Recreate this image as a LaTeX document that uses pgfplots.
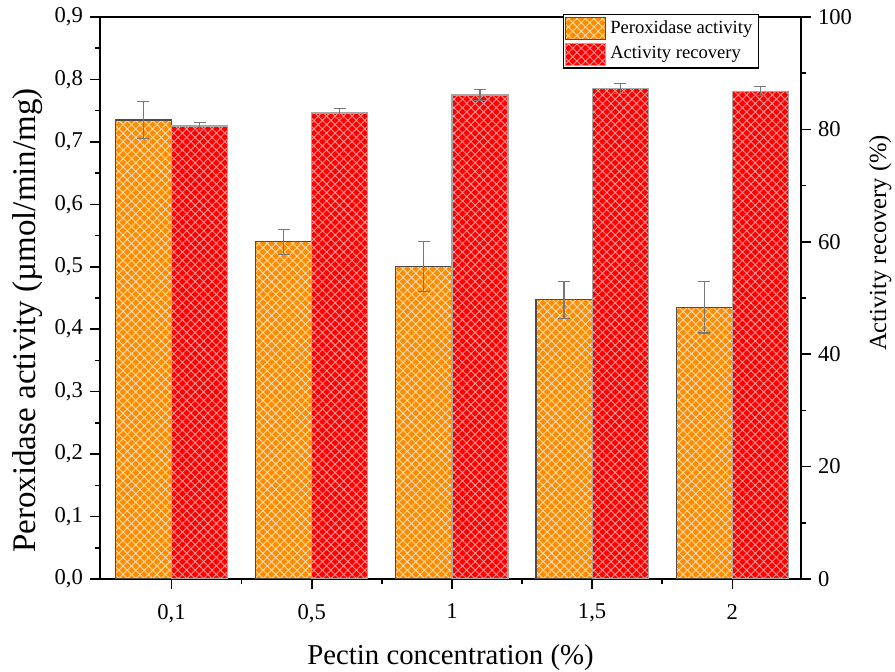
\documentclass[border=0pt]{standalone}
\usepackage{pgfplots}
\pgfplotsset{compat=1.18}
\usepackage{pgfplotstable}
\usetikzlibrary{patterns.meta}
\usepackage{fontspec}
\setmainfont{Liberation Serif}
\definecolor{barorange}{RGB}{255,140,0}
\definecolor{barred}{RGB}{255,0,0}
\definecolor{errgray}{RGB}{120,120,120}

\pgfplotstableread{
x y err
0 0.735 0.030
1 0.540 0.020
2 0.500 0.040
3 0.447 0.030
4 0.435 0.041
}\peroxidase
\pgfplotstableread{
x y err
0 80.6 0.6
1 82.9 0.8
2 86.1 0.95
3 87.3 0.85
4 86.8 0.8
}\recovery

\pgfplotsset{
  common/.style={
    width=350.5pt, height=281pt, scale only axis,
    xmin=-0.51, xmax=4.49,
    ybar, bar width=0.4,
    tick align=outside,
    major tick length=5pt, minor tick length=2.5pt,
    tick style={black, line width=0.8pt},
    axis line style={line width=1pt},
    tick label style={font=\fontsize{11.3}{13}\selectfont},
    /pgf/number format/assume math mode=true,
  },
  errbars/.style={error bars/.cd, y dir=both, y explicit,
    error bar style={errgray, line width=0.6pt},
    error mark options={rotate=90, errgray, mark size=3pt, line width=0.6pt}},
  swatch/.style={legend image code/.code={\draw[##1] (0pt,-5.5pt) rectangle (20pt,5.5pt);}},
  orangebar/.style={fill=barorange, draw=gray!60!black, line width=0.6pt,
    postaction={pattern={Hatch[angle=45,distance=3.0pt,line width=0.45pt]}, pattern color=white!70!barorange}},
  redbar/.style={fill=barred, draw=gray!70, line width=0.6pt,
    postaction={pattern={Hatch[angle=45,distance=3.0pt,line width=0.45pt]}, pattern color=white!60!barred}},
}

\begin{document}
\begin{tikzpicture}
\begin{axis}[common, name=main,
  axis y line*=left,
  ymin=0, ymax=0.9,
  ytick={0,0.1,...,0.9},
  minor ytick={0.05,0.15,...,0.85},
  yticklabel style={/pgf/number format/.cd, use comma, fixed, fixed zerofill, precision=1},
  xtick={0,1,2,3,4},
  xticklabels={{0,1},{0,5},1,{1,5},2},
  xticklabel style={yshift=-4pt},
  minor xtick={0.5,1.5,2.5,3.5},
  xtick pos=bottom,
  xlabel={Pectin concentration (\%)},
  ylabel={Peroxidase activity (µmol/min/mg)},
  every axis x label/.style={at={(axis description cs:0.5,-0.139)}, anchor=center, font=\fontsize{14.4}{16}\selectfont},
  every axis y label/.style={at={(axis description cs:-0.103,0.46)}, rotate=90, anchor=center, font=\fontsize{16.5}{18}\selectfont},
]
\addplot[orangebar, bar shift=-0.2, errbars] table[x=x, y=y, y error=err] {\peroxidase};
\end{axis}
\begin{axis}[common,
  axis y line*=right,
  axis x line=none,
  ymin=0, ymax=100,
  ytick={0,20,...,100},
  minor ytick={10,30,...,90},
  ylabel={Activity recovery (\%)},
  every axis y label/.style={at={(axis description cs:1.113,0.598)}, rotate=90, anchor=center, font=\fontsize{12.3}{14}\selectfont},
  legend style={at={(0.94,1.005)}, anchor=north east, draw=black, line width=0.6pt,
    inner sep=1pt, font=\fontsize{9.3}{10.5}\selectfont, row sep=1pt, cells={anchor=west}},
]
\addlegendimage{swatch, orangebar}
\addlegendentry{Peroxidase activity}
\addplot[redbar, bar shift=0.2, swatch, errbars] table[x=x, y=y, y error=err] {\recovery};
\addlegendentry{Activity recovery}
\end{axis}
\pgfresetboundingbox
\path ([xshift=-50pt,yshift=-46.5pt]main.south west) rectangle ([xshift=47pt,yshift=8.5pt]main.north east);
\end{tikzpicture}
\end{document}
